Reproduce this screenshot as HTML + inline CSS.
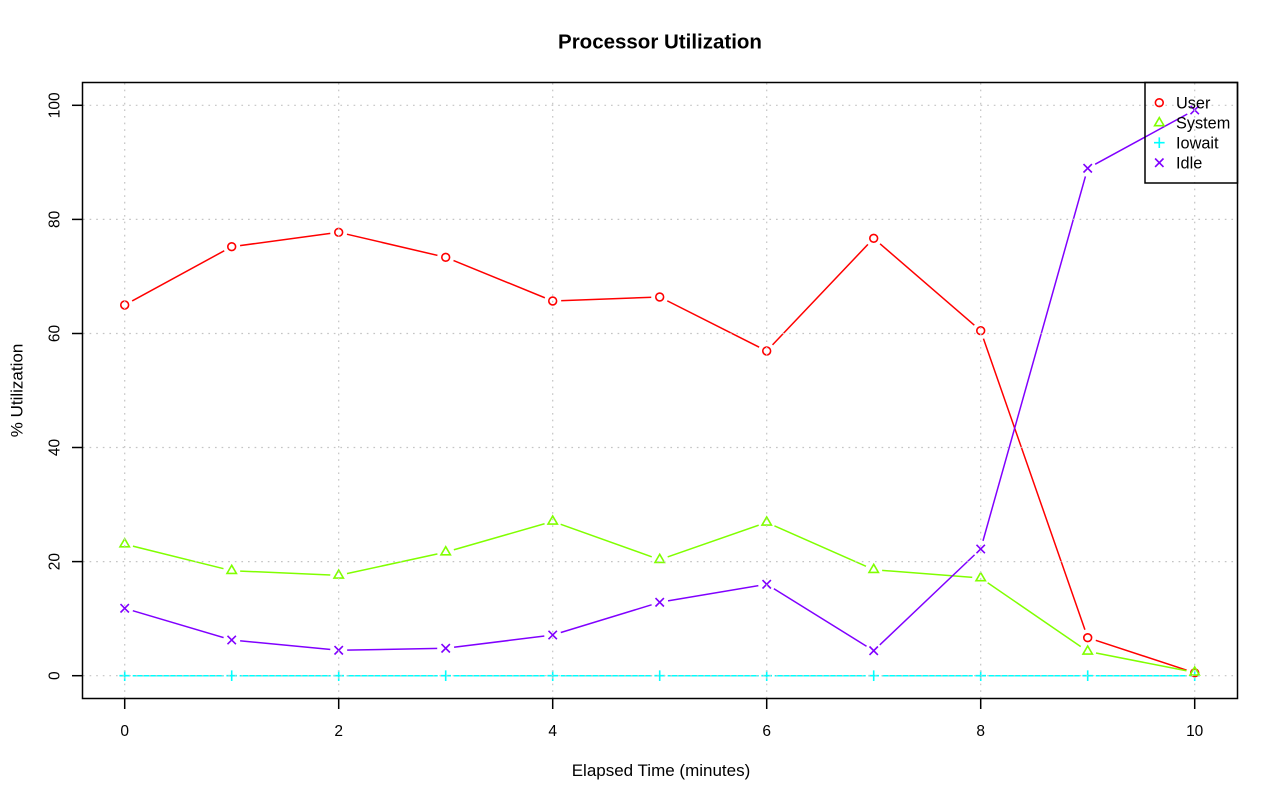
<!DOCTYPE html>
<html>
<head>
<meta charset="utf-8">
<style>
html,body{margin:0;padding:0;background:#fff;}
svg{display:block;}
text{font-family:"Liberation Sans",Arial,Helvetica,sans-serif;fill:#000;}
</style>
</head>
<body>
<svg width="1280" height="801" viewBox="0 0 1280 801" xmlns="http://www.w3.org/2000/svg">
<defs>
  <mask id="mU" maskUnits="userSpaceOnUse" x="0" y="0" width="1280" height="801">
    <rect x="0" y="0" width="1280" height="801" fill="#fff"/>
    <g fill="#000">
      <circle cx="124.7" cy="305" r="8.5"/><circle cx="231.7" cy="246.7" r="8.5"/><circle cx="338.7" cy="232.3" r="8.5"/>
      <circle cx="445.7" cy="257.3" r="8.5"/><circle cx="552.7" cy="301" r="8.5"/><circle cx="659.7" cy="297" r="8.5"/>
      <circle cx="766.7" cy="351" r="8.5"/><circle cx="873.7" cy="238.3" r="8.5"/><circle cx="980.7" cy="330.7" r="8.5"/>
      <circle cx="1087.7" cy="637.7" r="8.5"/><circle cx="1194.7" cy="672.8" r="8.5"/>
    </g>
  </mask>
  <mask id="mS" maskUnits="userSpaceOnUse" x="0" y="0" width="1280" height="801">
    <rect x="0" y="0" width="1280" height="801" fill="#fff"/>
    <g fill="#000">
      <circle cx="124.7" cy="544.1" r="8.5"/><circle cx="231.7" cy="570.7" r="8.5"/><circle cx="338.7" cy="575.4" r="8.5"/>
      <circle cx="445.7" cy="552.1" r="8.5"/><circle cx="552.7" cy="521.4" r="8.5"/><circle cx="659.7" cy="559.7" r="8.5"/>
      <circle cx="766.7" cy="522.4" r="8.5"/><circle cx="873.7" cy="569.7" r="8.5"/><circle cx="980.7" cy="578" r="8.5"/>
      <circle cx="1087.7" cy="651.4" r="8.5"/><circle cx="1194.7" cy="672.4" r="8.5"/>
    </g>
  </mask>
  <mask id="mW" maskUnits="userSpaceOnUse" x="0" y="0" width="1280" height="801">
    <rect x="0" y="0" width="1280" height="801" fill="#fff"/>
    <g fill="#000">
      <circle cx="124.7" cy="675.7" r="8"/><circle cx="231.7" cy="675.7" r="8"/><circle cx="338.7" cy="675.7" r="8"/>
      <circle cx="445.7" cy="675.7" r="8"/><circle cx="552.7" cy="675.7" r="8"/><circle cx="659.7" cy="675.7" r="8"/>
      <circle cx="766.7" cy="675.7" r="8"/><circle cx="873.7" cy="675.7" r="8"/><circle cx="980.7" cy="675.7" r="8"/>
      <circle cx="1087.7" cy="675.7" r="8"/><circle cx="1194.7" cy="675.7" r="8"/>
    </g>
  </mask>
  <mask id="mI" maskUnits="userSpaceOnUse" x="0" y="0" width="1280" height="801">
    <rect x="0" y="0" width="1280" height="801" fill="#fff"/>
    <g fill="#000">
      <circle cx="124.7" cy="608.3" r="8.5"/><circle cx="231.7" cy="640" r="8.5"/><circle cx="338.7" cy="650.3" r="8.5"/>
      <circle cx="445.7" cy="648.3" r="8.5"/><circle cx="552.7" cy="635" r="8.5"/><circle cx="659.7" cy="602.3" r="8.5"/>
      <circle cx="766.7" cy="584.3" r="8.5"/><circle cx="873.7" cy="650.7" r="8.5"/><circle cx="980.7" cy="549" r="8.5"/>
      <circle cx="1087.7" cy="168.3" r="8.5"/><circle cx="1194.7" cy="110" r="8.5"/>
    </g>
  </mask>
  <g id="pl"><path d="M-5.3 0H5.3M0 -5.3V5.3"/></g>
  <g id="xx"><path d="M-4.2 -4.2L4.2 4.2M-4.2 4.2L4.2 -4.2"/></g>
  <g id="tri"><path d="M0 -5.4L4.7 2.7H-4.7Z"/></g>
</defs>

<!-- Title -->
<text x="660" y="48.3" font-size="20.5" font-weight="bold" text-anchor="middle">Processor Utilization</text>

<!-- Series lines -->
<g fill="none" stroke-width="1.5" stroke-linejoin="round">
  <polyline mask="url(#mW)" stroke="#00FFFF" points="124.7,675.7 1194.7,675.7"/>
  <polyline mask="url(#mU)" stroke="#FF0000" points="124.7,305 231.7,246.7 338.7,232.3 445.7,257.3 552.7,301 659.7,297 766.7,351 873.7,238.3 980.7,330.7 1087.7,637.7 1194.7,672.8"/>
  <polyline mask="url(#mS)" stroke="#80FF00" points="124.7,544.1 231.7,570.7 338.7,575.4 445.7,552.1 552.7,521.4 659.7,559.7 766.7,522.4 873.7,569.7 980.7,578 1087.7,651.4 1194.7,672.4"/>
  <polyline mask="url(#mI)" stroke="#8000FF" points="124.7,608.3 231.7,640 338.7,650.3 445.7,648.3 552.7,635 659.7,602.3 766.7,584.3 873.7,650.7 980.7,549 1087.7,168.3 1194.7,110"/>
</g>

<!-- Markers -->
<g fill="none" stroke="#00FFFF" stroke-width="1.6">
  <use href="#pl" x="124.7" y="675.7"/><use href="#pl" x="231.7" y="675.7"/><use href="#pl" x="338.7" y="675.7"/>
  <use href="#pl" x="445.7" y="675.7"/><use href="#pl" x="552.7" y="675.7"/><use href="#pl" x="659.7" y="675.7"/>
  <use href="#pl" x="766.7" y="675.7"/><use href="#pl" x="873.7" y="675.7"/><use href="#pl" x="980.7" y="675.7"/>
  <use href="#pl" x="1087.7" y="675.7"/><use href="#pl" x="1194.7" y="675.7"/>
</g>
<g fill="none" stroke="#FF0000" stroke-width="1.6">
  <circle cx="124.7" cy="305" r="3.9"/><circle cx="231.7" cy="246.7" r="3.9"/><circle cx="338.7" cy="232.3" r="3.9"/>
  <circle cx="445.7" cy="257.3" r="3.9"/><circle cx="552.7" cy="301" r="3.9"/><circle cx="659.7" cy="297" r="3.9"/>
  <circle cx="766.7" cy="351" r="3.9"/><circle cx="873.7" cy="238.3" r="3.9"/><circle cx="980.7" cy="330.7" r="3.9"/>
  <circle cx="1087.7" cy="637.7" r="3.9"/><circle cx="1194.7" cy="672.8" r="3.9"/>
</g>
<g fill="none" stroke="#80FF00" stroke-width="1.6" stroke-linejoin="miter">
  <use href="#tri" x="124.7" y="544.1"/><use href="#tri" x="231.7" y="570.7"/><use href="#tri" x="338.7" y="575.4"/>
  <use href="#tri" x="445.7" y="552.1"/><use href="#tri" x="552.7" y="521.4"/><use href="#tri" x="659.7" y="559.7"/>
  <use href="#tri" x="766.7" y="522.4"/><use href="#tri" x="873.7" y="569.7"/><use href="#tri" x="980.7" y="578"/>
  <use href="#tri" x="1087.7" y="651.4"/><use href="#tri" x="1194.7" y="672.4"/>
</g>
<g fill="none" stroke="#8000FF" stroke-width="1.6">
  <use href="#xx" x="124.7" y="608.3"/><use href="#xx" x="231.7" y="640"/><use href="#xx" x="338.7" y="650.3"/>
  <use href="#xx" x="445.7" y="648.3"/><use href="#xx" x="552.7" y="635"/><use href="#xx" x="659.7" y="602.3"/>
  <use href="#xx" x="766.7" y="584.3"/><use href="#xx" x="873.7" y="650.7"/><use href="#xx" x="980.7" y="549"/>
  <use href="#xx" x="1087.7" y="168.3"/><use href="#xx" x="1194.7" y="110"/>
</g>

<!-- Grid -->
<g stroke="#C4C4C4" stroke-width="1.2" stroke-dasharray="1.65 4.95" fill="none">
  <line x1="124.7" y1="83" x2="124.7" y2="698"/>
  <line x1="338.7" y1="83" x2="338.7" y2="698"/>
  <line x1="552.7" y1="83" x2="552.7" y2="698"/>
  <line x1="766.7" y1="83" x2="766.7" y2="698"/>
  <line x1="980.7" y1="83" x2="980.7" y2="698"/>
  <line x1="1194.7" y1="83" x2="1194.7" y2="698"/>
  <line x1="83" y1="675.7" x2="1237" y2="675.7"/>
  <line x1="83" y1="561.6" x2="1237" y2="561.6"/>
  <line x1="83" y1="447.5" x2="1237" y2="447.5"/>
  <line x1="83" y1="333.5" x2="1237" y2="333.5"/>
  <line x1="83" y1="219.4" x2="1237" y2="219.4"/>
  <line x1="83" y1="105.3" x2="1237" y2="105.3"/>
</g>

<!-- Plot box -->
<rect x="82.5" y="82.5" width="1155" height="616" fill="none" stroke="#000" stroke-width="1.5"/>

<!-- Axis ticks -->
<g stroke="#000" stroke-width="1.5">
  <line x1="124.7" y1="698.5" x2="124.7" y2="709"/>
  <line x1="338.7" y1="698.5" x2="338.7" y2="709"/>
  <line x1="552.7" y1="698.5" x2="552.7" y2="709"/>
  <line x1="766.7" y1="698.5" x2="766.7" y2="709"/>
  <line x1="980.7" y1="698.5" x2="980.7" y2="709"/>
  <line x1="1194.7" y1="698.5" x2="1194.7" y2="709"/>
  <line x1="72" y1="675.7" x2="82.5" y2="675.7"/>
  <line x1="72" y1="561.6" x2="82.5" y2="561.6"/>
  <line x1="72" y1="447.5" x2="82.5" y2="447.5"/>
  <line x1="72" y1="333.5" x2="82.5" y2="333.5"/>
  <line x1="72" y1="219.4" x2="82.5" y2="219.4"/>
  <line x1="72" y1="105.3" x2="82.5" y2="105.3"/>
</g>

<!-- X tick labels -->
<g font-size="15.5" text-anchor="middle">
  <text x="124.7" y="736">0</text>
  <text x="338.7" y="736">2</text>
  <text x="552.7" y="736">4</text>
  <text x="766.7" y="736">6</text>
  <text x="980.7" y="736">8</text>
  <text x="1194.7" y="736">10</text>
</g>
<!-- Y tick labels -->
<g font-size="15.5" text-anchor="middle">
  <text transform="translate(59.5,675.7) rotate(-90)">0</text>
  <text transform="translate(59.5,561.6) rotate(-90)">20</text>
  <text transform="translate(59.5,447.5) rotate(-90)">40</text>
  <text transform="translate(59.5,333.5) rotate(-90)">60</text>
  <text transform="translate(59.5,219.4) rotate(-90)">80</text>
  <text transform="translate(59.5,105.3) rotate(-90)">100</text>
</g>

<!-- Axis titles -->
<text x="661" y="776" font-size="17" text-anchor="middle">Elapsed Time (minutes)</text>
<text transform="translate(22.5,390.5) rotate(-90)" font-size="17" text-anchor="middle">% Utilization</text>

<!-- Legend -->
<rect x="1145" y="82.5" width="92.5" height="100.5" fill="none" stroke="#000" stroke-width="1.5"/>
<circle cx="1159.3" cy="102.7" r="3.9" fill="none" stroke="#FF0000" stroke-width="1.6"/>
<use href="#tri" x="1159.3" y="123" fill="none" stroke="#80FF00" stroke-width="1.6"/>
<use href="#pl" x="1159.3" y="142.7" fill="none" stroke="#00FFFF" stroke-width="1.6"/>
<use href="#xx" x="1159.3" y="162.7" fill="none" stroke="#8000FF" stroke-width="1.6"/>
<g font-size="16.3">
  <text x="1176" y="108.4">User</text>
  <text x="1176" y="128.4">System</text>
  <text x="1176" y="148.4">Iowait</text>
  <text x="1176" y="168.4">Idle</text>
</g>
</svg>
</body>
</html>
